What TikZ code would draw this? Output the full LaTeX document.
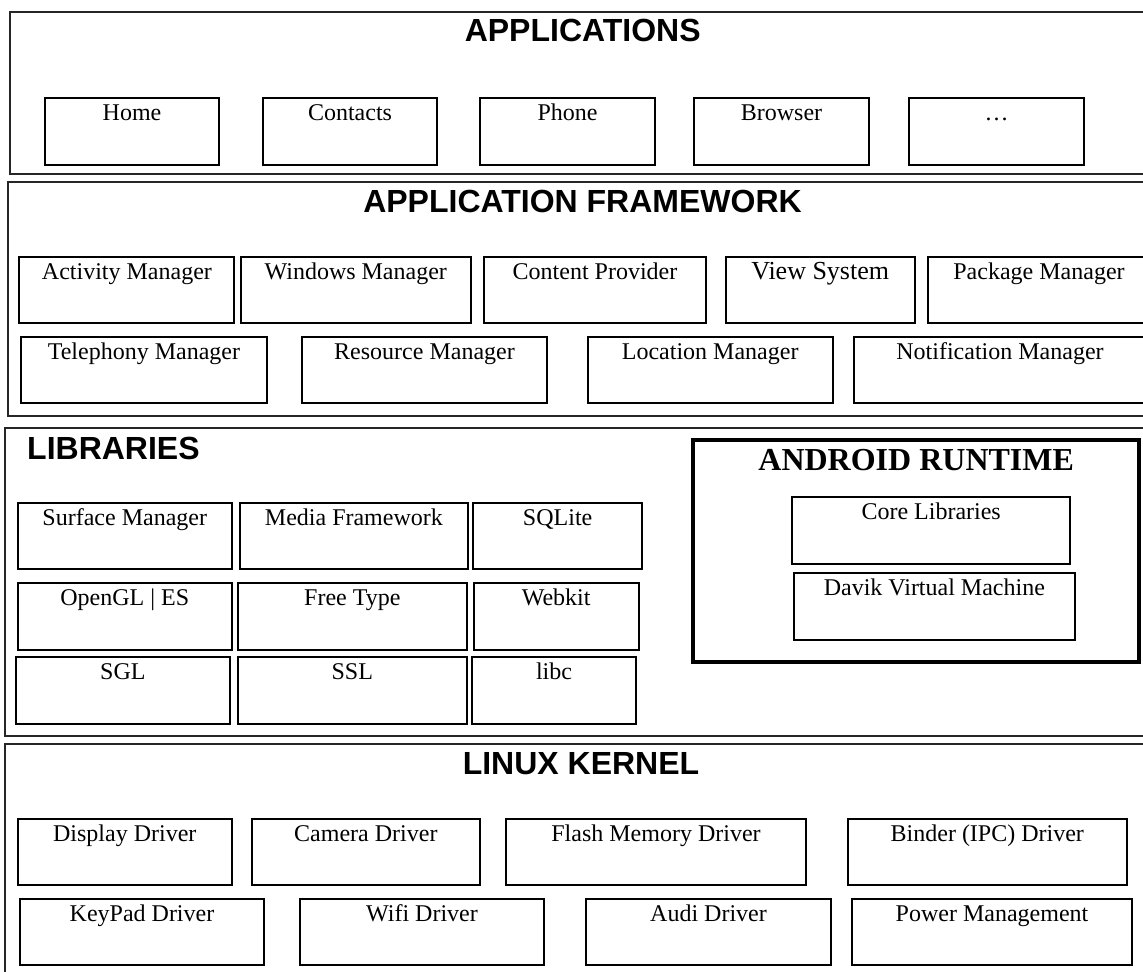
\documentclass[tikz,border=0pt]{standalone}
\usepackage{fontspec}
\setmainfont{Liberation Serif}
\newfontfamily\headfont{Liberation Sans}

\tikzset{
  layer/.style={draw=black!85, line width=1pt},
  comp/.style={draw, line width=1pt, anchor=north west, inner sep=0pt,
    minimum width=#1*0.5pt, text height=11.3pt, text depth=22pt,
    font=\fontsize{12}{14}\selectfont},
  title/.style={anchor=base, inner sep=0pt,
    font=\headfont\bfseries\fontsize{16}{19}\selectfont},
}

\begin{document}
\begin{tikzpicture}[x=0.5pt, y=-0.5pt]
    \useasboundingbox (0,0) rectangle (1143,971);
    \clip (0,0) rectangle (1143,971);

    % applications
    \draw[layer] (10,12) rectangle (1156,173.5);
    \node[title] (apps) at (582.7,41.7) {APPLICATIONS};
    \node[comp=174] (home) at (44,97.3) {Home};
    \node[comp=174] (contacts) at (262,97.3) {Contacts};
    \node[comp=175] (phone) at (479,97.3) {Phone};
    \node[comp=175] (browser) at (693,97.3) {Browser};
    \node[comp=175] (more) at (908,97.3) {\dots};

    % application framework
    \draw[layer] (8,182) rectangle (1156,416);
    \node[title] (frame) at (582.5,212.7) {APPLICATION FRAMEWORK};
    \node[comp=215] (activity) at (18.4,255.7) {Activity Manager};
    \node[comp=229.6] (windows) at (240,255.7) {Windows Manager};
    \node[comp=222] (content) at (483,255.7) {Content Provider};
    \node[comp=189, font=\fontsize{13}{15}\selectfont] (view) at (724.7,255.7) {View System};
    \node[comp=222] (package) at (927,255.7) {Package Manager};
    \node[comp=245.3] (telephony) at (20.3,335.7) {Telephony Manager};
    \node[comp=245] (resource) at (301,335.7) {Resource Manager};
    \node[comp=245] (location) at (586.7,335.7) {Location Manager};
    \node[comp=292] (notify) at (853,335.7) {Notification Manager};

    % libraries
    \draw[layer] (5,428) rectangle (1156,736);
    \node[title, anchor=base west] (libs) at (26.8,459.3) {LIBRARIES};
    \node[comp=214.5] (surface) at (16.5,501.7) {Surface Manager};
    \node[comp=228.2] (media) at (238.8,501.7) {Media Framework};
    \node[comp=168.7] (sqlite) at (472.3,501.7) {SQLite};
    \node[comp=214.5] (opengl) at (16.5,582) {OpenGL | ES};
    \node[comp=228.6] (freetype) at (237,582) {Free Type};
    \node[comp=164.7] (webkit) at (472.8,582) {Webkit};
    \node[comp=214.3] (sgl) at (14.7,656) {SGL};
    \node[comp=228.6] (ssl) at (237,656) {SSL};
    \node[comp=164] (libc) at (471,656) {libc};

    % android runtime
    \draw[line width=2pt] (693.3,440) rectangle (1139,661.7);
    \node[anchor=base, inner sep=0pt, font=\bfseries\fontsize{16}{19}\selectfont]
        (runtime) at (916.2,470) {ANDROID RUNTIME};
    \node[comp=278.3] (core) at (791,496) {Core Libraries};
    \node[comp=281.3] (davik) at (792.7,572.3) {Davik Virtual Machine};

    % linux kernel
    \draw[layer] (5,744) rectangle (1156,1000);
    \node[title] (kernel) at (581,774.3) {LINUX KERNEL};
    \node[comp=214.5] (display) at (16.5,817.7) {Display Driver};
    \node[comp=228.3] (camera) at (250.7,817.7) {Camera Driver};
    \node[comp=300] (flash) at (505,817.7) {Flash Memory Driver};
    \node[comp=278.6] (binder) at (847,817.7) {Binder (IPC) Driver};
    \node[comp=244] (keypad) at (19,897.7) {KeyPad Driver};
    \node[comp=244] (wifi) at (299,897.7) {Wifi Driver};
    \node[comp=245] (audi) at (585,897.7) {Audi Driver};
    \node[comp=280.6] (power) at (850.7,897.7) {Power Management};
\end{tikzpicture}
\end{document}
